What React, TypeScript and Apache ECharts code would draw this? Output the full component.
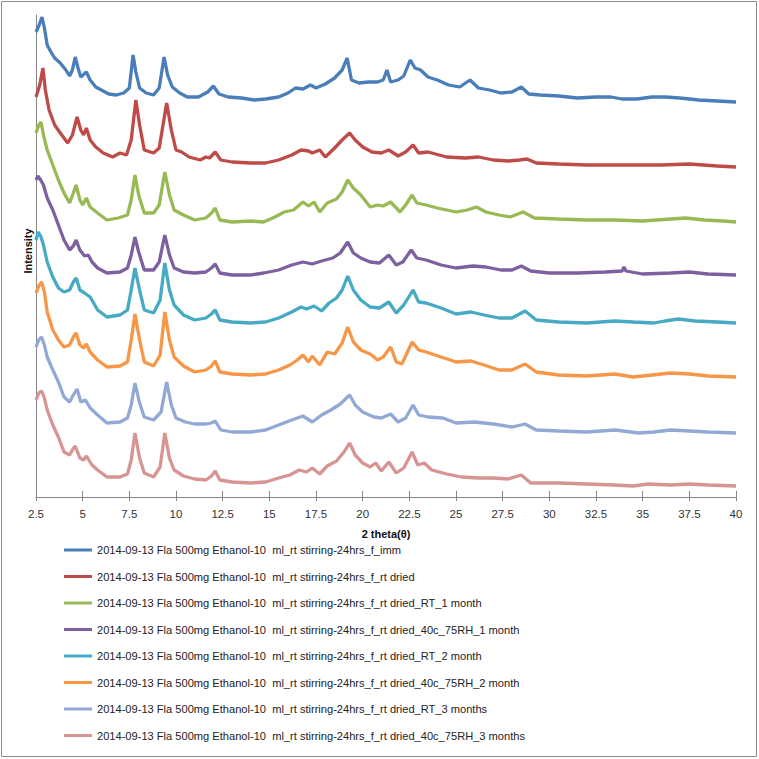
import React, { useEffect, useRef } from "react";
import * as echarts from "echarts";

const seriesNames = [
  "2014-09-13 Fla 500mg Ethanol-10  ml_rt stirring-24hrs_f_imm",
  "2014-09-13 Fla 500mg Ethanol-10  ml_rt stirring-24hrs_f_rt dried",
  "2014-09-13 Fla 500mg Ethanol-10  ml_rt stirring-24hrs_f_rt dried_RT_1 month",
  "2014-09-13 Fla 500mg Ethanol-10  ml_rt stirring-24hrs_f_rt dried_40c_75RH_1 month",
  "2014-09-13 Fla 500mg Ethanol-10  ml_rt stirring-24hrs_f_rt dried_RT_2 month",
  "2014-09-13 Fla 500mg Ethanol-10  ml_rt stirring-24hrs_f_rt dried_40c_75RH_2 month",
  "2014-09-13 Fla 500mg Ethanol-10  ml_rt stirring-24hrs_f_rt dried_RT_3 months",
  "2014-09-13 Fla 500mg Ethanol-10  ml_rt stirring-24hrs_f_rt dried_40c_75RH_3 months",
];

const seriesColors = ["#4A7EBB", "#BE4B48", "#98B954", "#7D60A0", "#46AAC5", "#F79646", "#92A9D6", "#D69492"];

const s1Imm = [
  [2.5, 465], [2.65, 471], [2.82, 480], [2.95, 469], [3.1, 452], [3.3, 445], [3.5, 439], [3.8, 434], [4.1, 427], [4.3, 421],
  [4.45, 427], [4.6, 440], [4.75, 429], [4.9, 420], [5.2, 425], [5.4, 417], [5.7, 410], [6.0, 407], [6.4, 403], [6.8, 402],
  [7.2, 404], [7.5, 409], [7.7, 442], [7.85, 425], [8.05, 409], [8.4, 404], [8.8, 402], [9.1, 409], [9.36, 440], [9.55, 422],
  [9.8, 410], [10.2, 404], [10.6, 400], [11.2, 400], [11.7, 405], [12.0, 411], [12.3, 403], [12.8, 400], [13.5, 399], [14.2, 397],
  [14.8, 398], [15.5, 400], [16.0, 404], [16.4, 409], [16.8, 408], [17.2, 412], [17.5, 409], [18.0, 413], [18.5, 419], [18.9, 427],
  [19.17, 439], [19.4, 417], [19.8, 414], [20.3, 415], [20.8, 415], [21.1, 417], [21.3, 427], [21.5, 415], [21.9, 417], [22.2, 421],
  [22.55, 437], [22.8, 429], [23.1, 427], [23.5, 420], [24.0, 417], [24.6, 412], [25.2, 410], [25.75, 417], [26.2, 409], [26.8, 407],
  [27.4, 404], [28.0, 405], [28.5, 410], [28.9, 403], [29.5, 402], [30.5, 401], [31.5, 399], [32.5, 400], [33.3, 400], [33.9, 398],
  [34.7, 398], [35.5, 400], [36.2, 400], [37.0, 399], [38.0, 397], [39.0, 396], [40.0, 395],
];

const s2RtDried = [
  [2.5, 400], [2.7, 412], [2.87, 429], [3.0, 407], [3.2, 387], [3.5, 372], [3.8, 364], [4.2, 354], [4.45, 362], [4.7, 380],
  [4.9, 367], [5.05, 362], [5.2, 369], [5.4, 357], [5.7, 350], [6.1, 344], [6.6, 340], [7.0, 344], [7.35, 342], [7.6, 357],
  [7.85, 397], [8.05, 372], [8.3, 347], [8.8, 344], [9.1, 349], [9.5, 394], [9.75, 367], [10.0, 347], [10.3, 345], [10.7, 340],
  [11.3, 337], [11.6, 340], [11.8, 339], [12.1, 345], [12.4, 337], [13.0, 335], [14.0, 334], [14.8, 334], [15.5, 337], [16.2, 342],
  [16.7, 347], [17.1, 346], [17.3, 344], [17.7, 347], [18.0, 340], [18.5, 349], [18.9, 357], [19.3, 364], [19.6, 357], [20.0, 350],
  [20.5, 345], [21.0, 344], [21.4, 347], [21.9, 341], [22.3, 345], [22.7, 352], [23.0, 344], [23.5, 345], [24.5, 340], [25.5, 339],
  [26.2, 340], [27.0, 337], [27.8, 336], [28.4, 337], [28.8, 338], [29.3, 334], [30.5, 333], [32.0, 332], [34.0, 332], [36.0, 332],
  [37.5, 333], [39.0, 331], [40.0, 330],
];

const s3Rt1Month = [
  [2.5, 364], [2.65, 372], [2.77, 375], [2.9, 362], [3.1, 347], [3.4, 332], [3.7, 317], [4.0, 304], [4.3, 294], [4.5, 304],
  [4.65, 312], [4.85, 297], [5.0, 292], [5.2, 299], [5.4, 290], [5.8, 284], [6.3, 277], [6.9, 279], [7.4, 282], [7.6, 297],
  [7.8, 322], [8.0, 302], [8.3, 284], [8.8, 284], [9.1, 292], [9.4, 325], [9.65, 302], [9.9, 287], [10.4, 282], [11.0, 277],
  [11.6, 279], [11.9, 284], [12.1, 289], [12.35, 277], [13.0, 275], [14.0, 276], [14.7, 275], [15.3, 280], [15.8, 285], [16.3, 287],
  [16.8, 295], [17.1, 291], [17.4, 295], [17.7, 285], [18.1, 294], [18.6, 298], [18.9, 305], [19.2, 317], [19.5, 309], [19.9, 302],
  [20.4, 290], [20.8, 292], [21.1, 291], [21.5, 295], [22.0, 285], [22.3, 292], [22.65, 302], [22.9, 294], [23.4, 292], [24.0, 289],
  [25.0, 285], [25.6, 287], [26.1, 290], [26.6, 285], [27.3, 282], [27.9, 280], [28.6, 285], [29.2, 279], [30.5, 278], [32.0, 277],
  [33.5, 277], [35.0, 276], [36.5, 278], [37.3, 279], [38.3, 277], [39.3, 276], [40.0, 275],
];

const s4Rh1Month = [
  [2.5, 317], [2.6, 321], [2.75, 317], [2.9, 312], [3.1, 299], [3.4, 287], [3.7, 272], [4.0, 257], [4.3, 247], [4.5, 251],
  [4.65, 257], [4.85, 247], [5.1, 241], [5.3, 242], [5.5, 235], [5.8, 229], [6.3, 224], [7.0, 225], [7.4, 229], [7.6, 242],
  [7.8, 260], [8.0, 245], [8.3, 227], [8.8, 227], [9.1, 235], [9.4, 262], [9.65, 242], [9.9, 229], [10.4, 225], [11.0, 224],
  [11.6, 225], [11.9, 229], [12.1, 233], [12.35, 224], [13.0, 222], [14.0, 222], [14.7, 224], [15.5, 227], [16.2, 232], [16.8, 235],
  [17.3, 233], [17.8, 236], [18.4, 239], [18.8, 244], [19.2, 255], [19.5, 244], [19.9, 239], [20.4, 235], [20.9, 234], [21.4, 242],
  [21.8, 232], [22.15, 235], [22.6, 247], [22.9, 239], [23.4, 237], [24.2, 232], [25.0, 229], [25.9, 231], [26.6, 230], [27.4, 227],
  [28.0, 227], [28.5, 231], [29.0, 226], [30.0, 224], [31.5, 224], [33.0, 225], [33.9, 226], [34.0, 230], [34.1, 226], [35.0, 223],
  [36.5, 224], [37.5, 225], [38.5, 223], [40.0, 222],
];

const s5Rt2Month = [
  [2.5, 257], [2.62, 265], [2.75, 261], [2.9, 252], [3.1, 235], [3.4, 220], [3.7, 209], [4.0, 205], [4.3, 207], [4.5, 215],
  [4.65, 219], [4.85, 207], [5.1, 204], [5.4, 200], [5.8, 187], [6.3, 180], [7.0, 182], [7.4, 187], [7.6, 207], [7.8, 229],
  [8.05, 207], [8.3, 187], [8.8, 184], [9.15, 197], [9.4, 234], [9.65, 207], [9.9, 192], [10.4, 182], [11.0, 177], [11.6, 179],
  [11.9, 183], [12.1, 187], [12.35, 177], [13.0, 175], [14.0, 174], [14.8, 175], [15.5, 179], [16.2, 185], [16.7, 190], [17.0, 188],
  [17.4, 191], [17.8, 186], [18.2, 194], [18.6, 199], [18.9, 207], [19.2, 221], [19.5, 207], [19.9, 197], [20.4, 190], [20.9, 189],
  [21.4, 195], [21.8, 184], [22.2, 192], [22.7, 207], [23.0, 195], [23.4, 194], [24.2, 189], [25.0, 183], [25.8, 185], [26.5, 182],
  [27.3, 179], [28.0, 179], [28.7, 186], [29.3, 177], [30.5, 175], [32.0, 174], [33.5, 176], [34.5, 175], [35.6, 174], [36.2, 176],
  [36.9, 178], [37.8, 176], [39.0, 175], [40.0, 174],
];

const s6Rh2Month = [
  [2.5, 204], [2.65, 211], [2.8, 215], [2.95, 205], [3.1, 185], [3.4, 167], [3.7, 157], [4.0, 150], [4.3, 152], [4.5, 160],
  [4.65, 164], [4.85, 152], [5.05, 149], [5.2, 153], [5.4, 145], [5.8, 137], [6.3, 130], [7.0, 131], [7.4, 135], [7.6, 157],
  [7.8, 183], [8.05, 157], [8.3, 135], [8.8, 131], [9.15, 142], [9.4, 185], [9.65, 157], [9.9, 140], [10.4, 131], [11.0, 125],
  [11.6, 127], [11.9, 131], [12.1, 136], [12.35, 125], [13.0, 123], [14.0, 122], [14.8, 123], [15.5, 127], [16.1, 132], [16.5, 137],
  [16.8, 142], [17.1, 135], [17.3, 141], [17.7, 132], [18.1, 145], [18.5, 143], [18.9, 154], [19.2, 170], [19.5, 155], [19.9, 147],
  [20.4, 143], [20.8, 137], [21.1, 140], [21.5, 150], [21.8, 135], [22.1, 133], [22.65, 155], [23.0, 147], [23.4, 145], [24.2, 140],
  [25.0, 135], [25.8, 136], [26.5, 132], [27.3, 127], [28.0, 127], [28.7, 133], [29.3, 125], [30.5, 122], [32.0, 121], [33.5, 123],
  [34.5, 120], [35.5, 122], [36.5, 124], [37.5, 123], [38.5, 121], [40.0, 120],
];

const s7Rt3Months = [
  [2.5, 150], [2.65, 157], [2.8, 160], [2.95, 152], [3.1, 140], [3.4, 127], [3.7, 115], [4.0, 100], [4.3, 95], [4.5, 102],
  [4.7, 108], [4.9, 95], [5.15, 97], [5.4, 89], [5.8, 82], [6.3, 74], [7.0, 75], [7.4, 79], [7.6, 92], [7.8, 114],
  [8.05, 94], [8.3, 80], [8.8, 77], [9.2, 85], [9.5, 115], [9.75, 92], [10.0, 79], [10.5, 75], [11.0, 73], [11.6, 73],
  [11.9, 74], [12.1, 76], [12.4, 67], [13.0, 65], [14.0, 65], [14.8, 67], [15.5, 72], [16.2, 77], [16.8, 81], [17.3, 75],
  [17.8, 82], [18.3, 87], [18.8, 93], [19.3, 102], [19.6, 92], [20.0, 85], [20.6, 80], [21.0, 79], [21.5, 83], [21.9, 75],
  [22.3, 79], [22.7, 92], [23.0, 82], [23.5, 80], [24.3, 79], [25.0, 74], [26.0, 75], [27.0, 73], [28.0, 70], [28.7, 73],
  [29.3, 67], [30.5, 66], [32.0, 65], [33.5, 67], [34.8, 64], [35.6, 65], [36.5, 67], [37.5, 66], [38.5, 65], [40.0, 64],
];

const s8Rh3Months = [
  [2.5, 97], [2.65, 104], [2.8, 106], [2.95, 99], [3.1, 87], [3.4, 72], [3.7, 60], [4.0, 45], [4.3, 42], [4.45, 47],
  [4.6, 51], [4.85, 39], [5.05, 37], [5.2, 41], [5.5, 32], [5.8, 27], [6.3, 20], [7.0, 20], [7.4, 23], [7.6, 37],
  [7.8, 64], [8.05, 39], [8.3, 24], [8.8, 20], [9.15, 30], [9.4, 64], [9.65, 39], [9.9, 27], [10.4, 21], [11.0, 18],
  [11.6, 17], [11.9, 21], [12.1, 26], [12.35, 17], [13.0, 15], [14.0, 14], [14.8, 15], [15.5, 19], [16.1, 22], [16.6, 27],
  [17.0, 25], [17.3, 29], [17.7, 23], [18.1, 31], [18.6, 36], [19.0, 45], [19.3, 54], [19.6, 42], [20.0, 34], [20.4, 30],
  [20.7, 34], [21.0, 26], [21.4, 35], [21.8, 24], [22.2, 29], [22.65, 45], [22.95, 32], [23.3, 34], [23.7, 27], [24.5, 23],
  [25.3, 20], [26.2, 19], [27.0, 19], [27.8, 18], [28.5, 22], [29.0, 14], [30.5, 14], [32.0, 13], [33.5, 12], [34.5, 11],
  [35.3, 13], [36.5, 12], [37.5, 13], [38.5, 12], [40.0, 11],
];

const allSeries = [s1Imm, s2RtDried, s3Rt1Month, s4Rh1Month, s5Rt2Month, s6Rh2Month, s7Rt3Months, s8Rh3Months];

const xMin = 2.5;
const xMax = 40;
const xStep = 2.5;

const FONT = "'Liberation Sans', Arial, sans-serif";

export default function App() {
  const ref = useRef<HTMLDivElement>(null);
  useEffect(() => {
    if (!ref.current) return;
    const chart = echarts.init(ref.current, null, { renderer: "svg" });
    chart.setOption({
      animation: false,
      backgroundColor: "#ffffff",
      graphic: [
        {
          type: "rect",
          shape: { x: 1.5, y: 1.5, width: 755, height: 755 },
          style: { fill: "none", stroke: "#8c8c8c", lineWidth: 1 },
          silent: true,
        },
        {
          type: "text",
          x: 28,
          y: 251,
          rotation: Math.PI / 2,
          style: {
            text: "Intensity",
            fontFamily: FONT,
            fontSize: 11,
            fontWeight: "bold",
            fill: "#111",
            align: "center",
            verticalAlign: "middle",
          },
          silent: true,
        },
      ],
      grid: { left: 36, right: 23, top: 15, bottom: 262, containLabel: false },
      legend: {
        orient: "vertical",
        left: 59,
        top: 538,
        itemWidth: 28,
        itemHeight: 3,
        itemGap: 12.5,
        icon: "rect",
        textStyle: { fontFamily: FONT, fontSize: 11.1, color: "#222", lineHeight: 14 },
        data: seriesNames.map((n) => ({ name: n, icon: "rect" })),
      },
      xAxis: [
        {
          type: "value",
          min: xMin,
          max: xMax,
          interval: xStep,
          name: "2 theta(θ)",
          nameLocation: "middle",
          nameGap: 31,
          nameTextStyle: { fontFamily: FONT, fontSize: 11, fontWeight: "bold", color: "#111" },
          axisLine: { lineStyle: { color: "#868686", width: 1 } },
          axisTick: { show: true, inside: true, length: 6, lineStyle: { color: "#868686" } },
          axisLabel: { fontFamily: FONT, fontSize: 11.5, color: "#333", margin: 11 },
          splitLine: { show: false },
        },
        {
          type: "value",
          position: "bottom",
          min: xMin,
          max: xMax,
          interval: xStep,
          axisLine: { show: false },
          axisTick: { show: true, length: 4, lineStyle: { color: "#868686" } },
          axisLabel: { show: false },
          splitLine: { show: false },
        },
      ],
      yAxis: {
        type: "value",
        min: 0,
        max: 482,
        axisLine: { show: true, lineStyle: { color: "#868686", width: 1 } },
        axisTick: { show: false },
        axisLabel: { show: false },
        splitLine: { show: false },
      },
      series: allSeries.map((d, i) => ({
        name: seriesNames[i],
        type: "line",
        xAxisIndex: 0,
        data: d,
        showSymbol: false,
        symbol: "none",
        color: seriesColors[i],
        lineStyle: { width: 3.3, color: seriesColors[i] },
      })),
    });
    return () => chart.dispose();
  }, []);
  return (
    <div
      ref={ref}
      style={{ position: "fixed", left: 0, top: 0, width: 759, height: 759 }}
    />
  );
}
